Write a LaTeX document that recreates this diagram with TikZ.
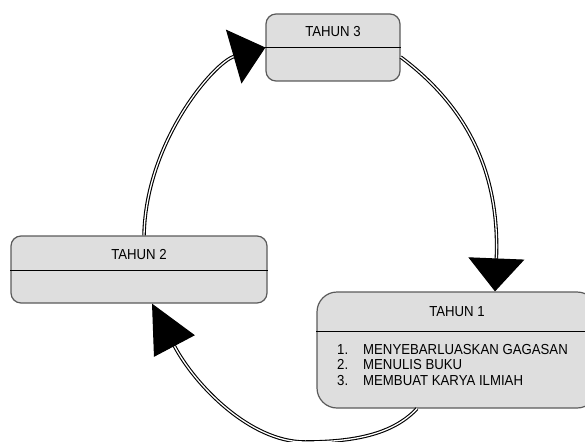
\documentclass[tikz,border=0pt]{standalone}
\usepackage{fontspec}
\setmainfont[FakeStretch=0.91]{Liberation Sans}
\usetikzlibrary{arrows.meta,calc}

\definecolor{boxfill}{HTML}{DEDEDE}
\definecolor{boxedge}{HTML}{5A5A5A}

\tikzset{
  yearbox/.style={draw=boxedge, fill=boxfill, line width=1.2pt, inner sep=0pt},
  headline/.style={draw=black, line width=0.9pt},
  title/.style={font=\fontsize{14.5}{15}\selectfont, inner sep=0pt},
  flow/.style={draw=black, line width=1.1pt, double=white, double distance=1.3pt},
  bighead/.style={-{Triangle[length=33pt,width=56pt]}},
  longhead/.style={-{Triangle[length=48pt,width=46pt]}},
}

\begin{document}
\begin{tikzpicture}[x=1pt, y=-1pt]
  \useasboundingbox (0,0) rectangle (585,441);
  \clip (0,0) rectangle (585,441);

  % year boxes
  \node[yearbox, rounded corners=10pt, minimum width=134pt, minimum height=67pt] (t3) at (333,47.5) {};
  \node[yearbox, rounded corners=10pt, minimum width=256pt, minimum height=67pt] (t2) at (139,269.5) {};
  \node[yearbox, rounded corners=20pt, minimum width=280pt, minimum height=116pt] (t1) at (457,350) {};

  % header separators
  \draw[headline] ([yshift=-34pt]t3.north west) -- ([yshift=-34pt]t3.north east);
  \draw[headline] ([yshift=-35pt]t2.north west) -- ([yshift=-35pt]t2.north east);
  \draw[headline] ([yshift=-40pt]t1.north west) -- ([yshift=-40pt]t1.north east);

  % titles
  \node[title] (t3title) at ([yshift=-18pt]t3.north) {TAHUN 3};
  \node[title] (t2title) at ([yshift=-19pt]t2.north) {TAHUN 2};
  \node[title] (t1title) at ([yshift=-20pt]t1.north) {TAHUN 1};

  % activities of the first year
  \node[font=\fontsize{14.5}{15.5}\selectfont, align=left, anchor=north west, inner sep=0pt] (t1list)
    at (337,344)
    {\makebox[26pt][l]{1.}MENYEBARLUASKAN GAGASAN\\
     \makebox[26pt][l]{2.}MENULIS BUKU\\
     \makebox[26pt][l]{3.}MEMBUAT KARYA ILMIAH};

  % cycle connectors
  \draw[flow, bighead] ([yshift=-9.5pt]t3.east)
    .. controls (465,105) and (500,170) .. ([xshift=38pt]t1.north);
  \draw[flow, longhead] ([xshift=-40pt]t1.south)
    .. controls (395,432) and (360,442) .. (305,442)
    .. controls (250,442) and (195,385) .. ([xshift=13pt]t2.south);
  \draw[flow, bighead] ([xshift=5pt]t2.north)
    .. controls (146,140) and (215,62) .. (t3.west);
\end{tikzpicture}
\end{document}
